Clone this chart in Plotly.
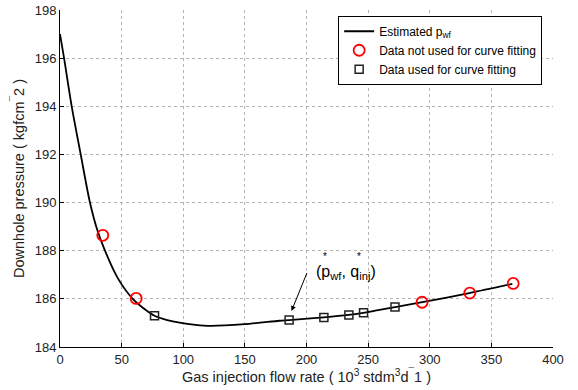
import plotly.graph_objects as go

# Estimated curve
curve_x = [0, 3.3, 9.5, 16.8, 24.3, 30, 36.5, 47, 59, 68, 76.7, 87, 97, 110, 122, 150, 178, 186, 214, 234, 246, 272, 294, 332, 367]
curve_y = [197.0, 196.0, 194.0, 192.0, 190.0, 188.9, 188.0, 186.85, 186.0, 185.6, 185.3, 185.12, 185.01, 184.92, 184.88, 184.95, 185.09, 185.12, 185.23, 185.33, 185.42, 185.66, 185.86, 186.24, 186.62]

# Data not used for curve fitting
unused_x = [34.7, 61.8, 293.8, 332.5, 367.7]
unused_y = [188.64, 186.02, 185.86, 186.24, 186.64]

# Data used for curve fitting
used_x = [76.7, 185.9, 214.1, 234.4, 246.3, 271.8]
used_y = [185.30, 185.12, 185.23, 185.33, 185.42, 185.66]

x_ticks = [0, 50, 100, 150, 200, 250, 300, 350, 400]
y_ticks = [184, 186, 188, 190, 192, 194, 196, 198]

font = "Liberation Sans, Arial, sans-serif"

# pixel helpers for annotation placement (plot area: x 60..553, y 10..347)
def px_to_x(px):
    return (px - 60) / (493 / 400)

def py_to_y(py):
    return 198 - (py - 10) / (337 / 14)

fig = go.Figure()
fig.add_trace(go.Scatter(x=curve_x, y=curve_y, mode="lines",
                         line=dict(color="black", width=1.8, shape="spline", smoothing=0.8),
                         name="Estimated p<sub>wf</sub>"))
fig.add_trace(go.Scatter(x=unused_x, y=unused_y, mode="markers",
                         marker=dict(symbol="circle-open", color="#ff0000", size=11, line=dict(width=1.8)),
                         name="Data not used for curve fitting"))
fig.add_trace(go.Scatter(x=used_x, y=used_y, mode="markers",
                         marker=dict(symbol="square-open", color="#222222", size=8, line=dict(width=1.5)),
                         name="Data used for curve fitting"))

# arrow annotation
fig.add_annotation(x=px_to_x(291.5), y=py_to_y(311), ax=px_to_x(307.5), ay=py_to_y(271.5),
                   axref="x", ayref="y", xref="x", yref="y", showarrow=True, arrowhead=2, arrowsize=1,
                   arrowwidth=1, arrowcolor="black", text="")
fig.add_annotation(x=px_to_x(314), y=py_to_y(272), xref="x", yref="y", xanchor="left", yanchor="middle",
                   showarrow=False, text="(p<sub>wf</sub>, q<sub>inj</sub>)", font=dict(family=font, size=16, color="black"))
fig.add_annotation(x=px_to_x(325), y=py_to_y(256), xref="x", yref="y", showarrow=False,
                   text="*", font=dict(family=font, size=10, color="black"))
fig.add_annotation(x=px_to_x(359), y=py_to_y(256), xref="x", yref="y", showarrow=False,
                   text="*", font=dict(family=font, size=10, color="black"))

fig.update_layout(
    width=578, height=390,
    margin=dict(l=60, r=25, t=10, b=43, autoexpand=False),
    paper_bgcolor="white", plot_bgcolor="white",
    font=dict(family=font, size=13, color="#222222"),
    showlegend=True,
    legend=dict(x=0.978, y=0.983, xanchor="right", yanchor="top", bgcolor="white", bordercolor="black", borderwidth=1,
                font=dict(family=font, size=12, color="black"), tracegroupgap=0, itemwidth=30),
)
fig.update_xaxes(range=[0, 400], tickvals=x_ticks, ticks="inside", ticklen=4, tickcolor="black", automargin=False,
                 showline=True, linecolor="black", linewidth=1, showgrid=True, gridcolor="#b4b4b4", griddash="dot",
                 gridwidth=1, zeroline=False, tickfont=dict(size=13, color="#222222"),
                 title=dict(text="Gas injection flow rate ( 10<sup>3</sup> stdm<sup>3</sup>d<sup>¯</sup>1 )", standoff=6,
                            font=dict(size=14.5, color="#222222")))
fig.update_yaxes(range=[184, 198], tickvals=y_ticks, ticks="inside", ticklen=4, tickcolor="black", automargin=False,
                 showline=True, linecolor="black", linewidth=1, showgrid=True, gridcolor="#b4b4b4", griddash="dot",
                 gridwidth=1, zeroline=False, tickfont=dict(size=13, color="#222222"),
                 title=dict(text="Downhole pressure ( kgfcm<sup>¯</sup>2 )", standoff=6, font=dict(size=14.5, color="#222222")))

fig.write_html("out.html", config={"displayModeBar": False},
               post_script="document.body.style.margin='0px';")
